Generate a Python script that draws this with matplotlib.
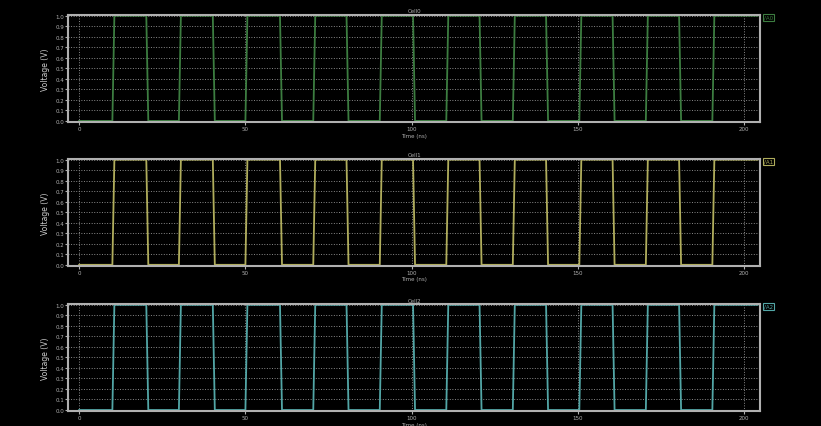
import matplotlib
matplotlib.use("Agg")
import matplotlib.pyplot as plt

# breakpoints of the clock waveforms (ns, V)
time_ns = [0, 10, 10.6, 20.2, 20.8, 30, 30.6, 40.2, 40.8, 50, 50.6, 60.4, 61,
           70.4, 71, 80.4, 81, 90.4, 91, 100.4, 101, 110.4, 111, 120.4, 121,
           130.4, 131, 140.4, 141, 150.4, 151, 160.4, 161, 170.4, 171, 180.4,
           181, 190.4, 191, 204]
v_cell0 = [0, 0, 1, 1, 0, 0, 1, 1, 0, 0, 1, 1, 0, 0, 1, 1, 0, 0, 1, 1, 0,
           0, 1, 1, 0, 0, 1, 1, 0, 0, 1, 1, 0, 0, 1, 1, 0, 0, 1, 1]
v_cell1 = list(v_cell0)
v_cell2 = list(v_cell0)

titles = ["Cell0", "Cell1", "Cell2"]
names = ["/A0", "/A1", "/A2"]
colors = ["#3c7d40", "#b0ad5c", "#52a6a6"]
series = [v_cell0, v_cell1, v_cell2]

xticks = [0, 50, 100, 150, 200]
yticks = [0.0, 0.1, 0.2, 0.3, 0.4, 0.5, 0.6, 0.7, 0.8, 0.9, 1.0]

fig = plt.figure(figsize=(8.21, 4.27), dpi=100, facecolor="black")
bottoms = [0.712, 0.375, 0.035]
gray = "#b0b0b0"

for i in range(3):
    ax = fig.add_axes([0.083, bottoms[i], 0.843, 0.25], facecolor="black")
    ax.plot(time_ns, series[i], color=colors[i], lw=1.3)
    ax.set_xlim(-3.3, 204.8)
    ax.set_ylim(-0.01, 1.005)
    ax.set_xticks(xticks)
    ax.set_yticks(yticks)
    ax.tick_params(colors=gray, labelsize=4, length=2, pad=1)
    ax.grid(True, color="#8a8a8a", ls=":", lw=0.7)
    for s in ax.spines.values():
        s.set_color(gray)
        s.set_linewidth(1.5)
    ax.set_ylabel("Voltage (V)", color="#cccccc", fontsize=5.5)
    ax.set_xlabel("Time (ns)", color=gray, fontsize=4, labelpad=1)
    ax.set_title(titles[i], color=gray, fontsize=4, pad=2)
    ax.text(1.005, 0.98, names[i], transform=ax.transAxes, fontsize=4,
            color=colors[i], va="center", ha="left",
            bbox=dict(facecolor="black", edgecolor=colors[i], pad=0.8, lw=0.8))

fig.savefig("out.png", dpi=100, facecolor="black")
